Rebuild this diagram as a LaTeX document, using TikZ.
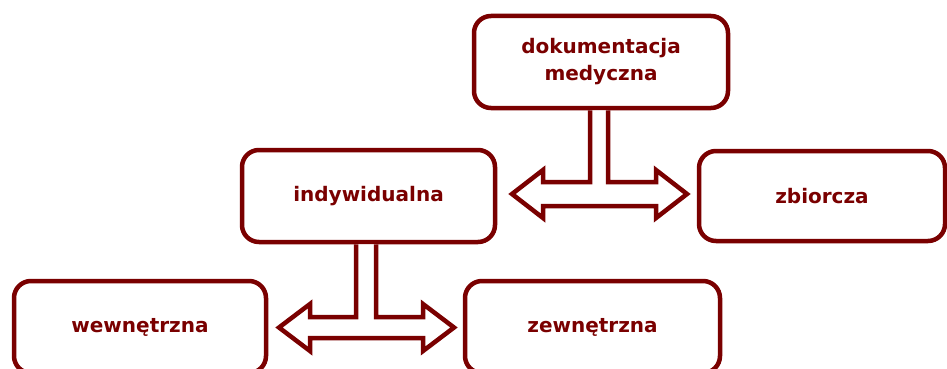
\documentclass[tikz,border=0pt]{standalone}
\usepackage{fontspec}
\setmainfont{DejaVu Sans}
\usetikzlibrary{calc}
\definecolor{maroon}{RGB}{122,0,0}
\begin{document}
\begin{tikzpicture}[x=1pt,y=-1pt,
  box/.style={draw=maroon, line width=4.5pt, rounded corners=17pt, fill=white,
    minimum width=254pt, minimum height=92pt, inner sep=0pt, align=center,
    text=maroon, font=\fontsize{20}{27}\selectfont\bfseries},
  dblarrow/.style={draw=maroon, line width=4.5pt, fill=white, line join=miter}]
\useasboundingbox (0,0) rectangle (947,369);
\node[box] (dok) at (601,62) {\raisebox{-2pt}{\begin{tabular}{@{}c@{}}dokumentacja\\[0pt]medyczna\end{tabular}}};
\node[box, minimum width=253pt] (ind) at (368.5,196) {\raisebox{-2pt}{indywidualna}};
\node[box, minimum width=246pt, minimum height=90pt] (zb) at (822,196) {\raisebox{-2pt}{zbiorcza}};
\node[box, minimum width=252pt] (wew) at (140,327) {\raisebox{-1pt}{wewnętrzna}};
\node[box, minimum width=255pt] (zew) at (592.5,327) {\raisebox{-1pt}{zewnętrzna}};
% arrow from dokumentacja
\draw[dblarrow] ($(dok.south)+(-11,0)$) -- (590,182) -- (543,182) -- (543,170)
  -- (512,194) -- (543,218) -- (543,206) -- (656,206) -- (656,218)
  -- (687,194) -- (656,170) -- (656,182) -- (608,182) -- ($(dok.south)+(7,0)$);
% arrow from indywidualna
\draw[dblarrow] ($(ind.south)+(-12.5,0)$) -- (356,317) -- (310,317) -- (310,304)
  -- (279,327.5) -- (310,351) -- (310,338) -- (423,338) -- (423,351)
  -- (454,327.5) -- (423,304) -- (423,317) -- (376,317) -- ($(ind.south)+(7.5,0)$);
\end{tikzpicture}
\end{document}
